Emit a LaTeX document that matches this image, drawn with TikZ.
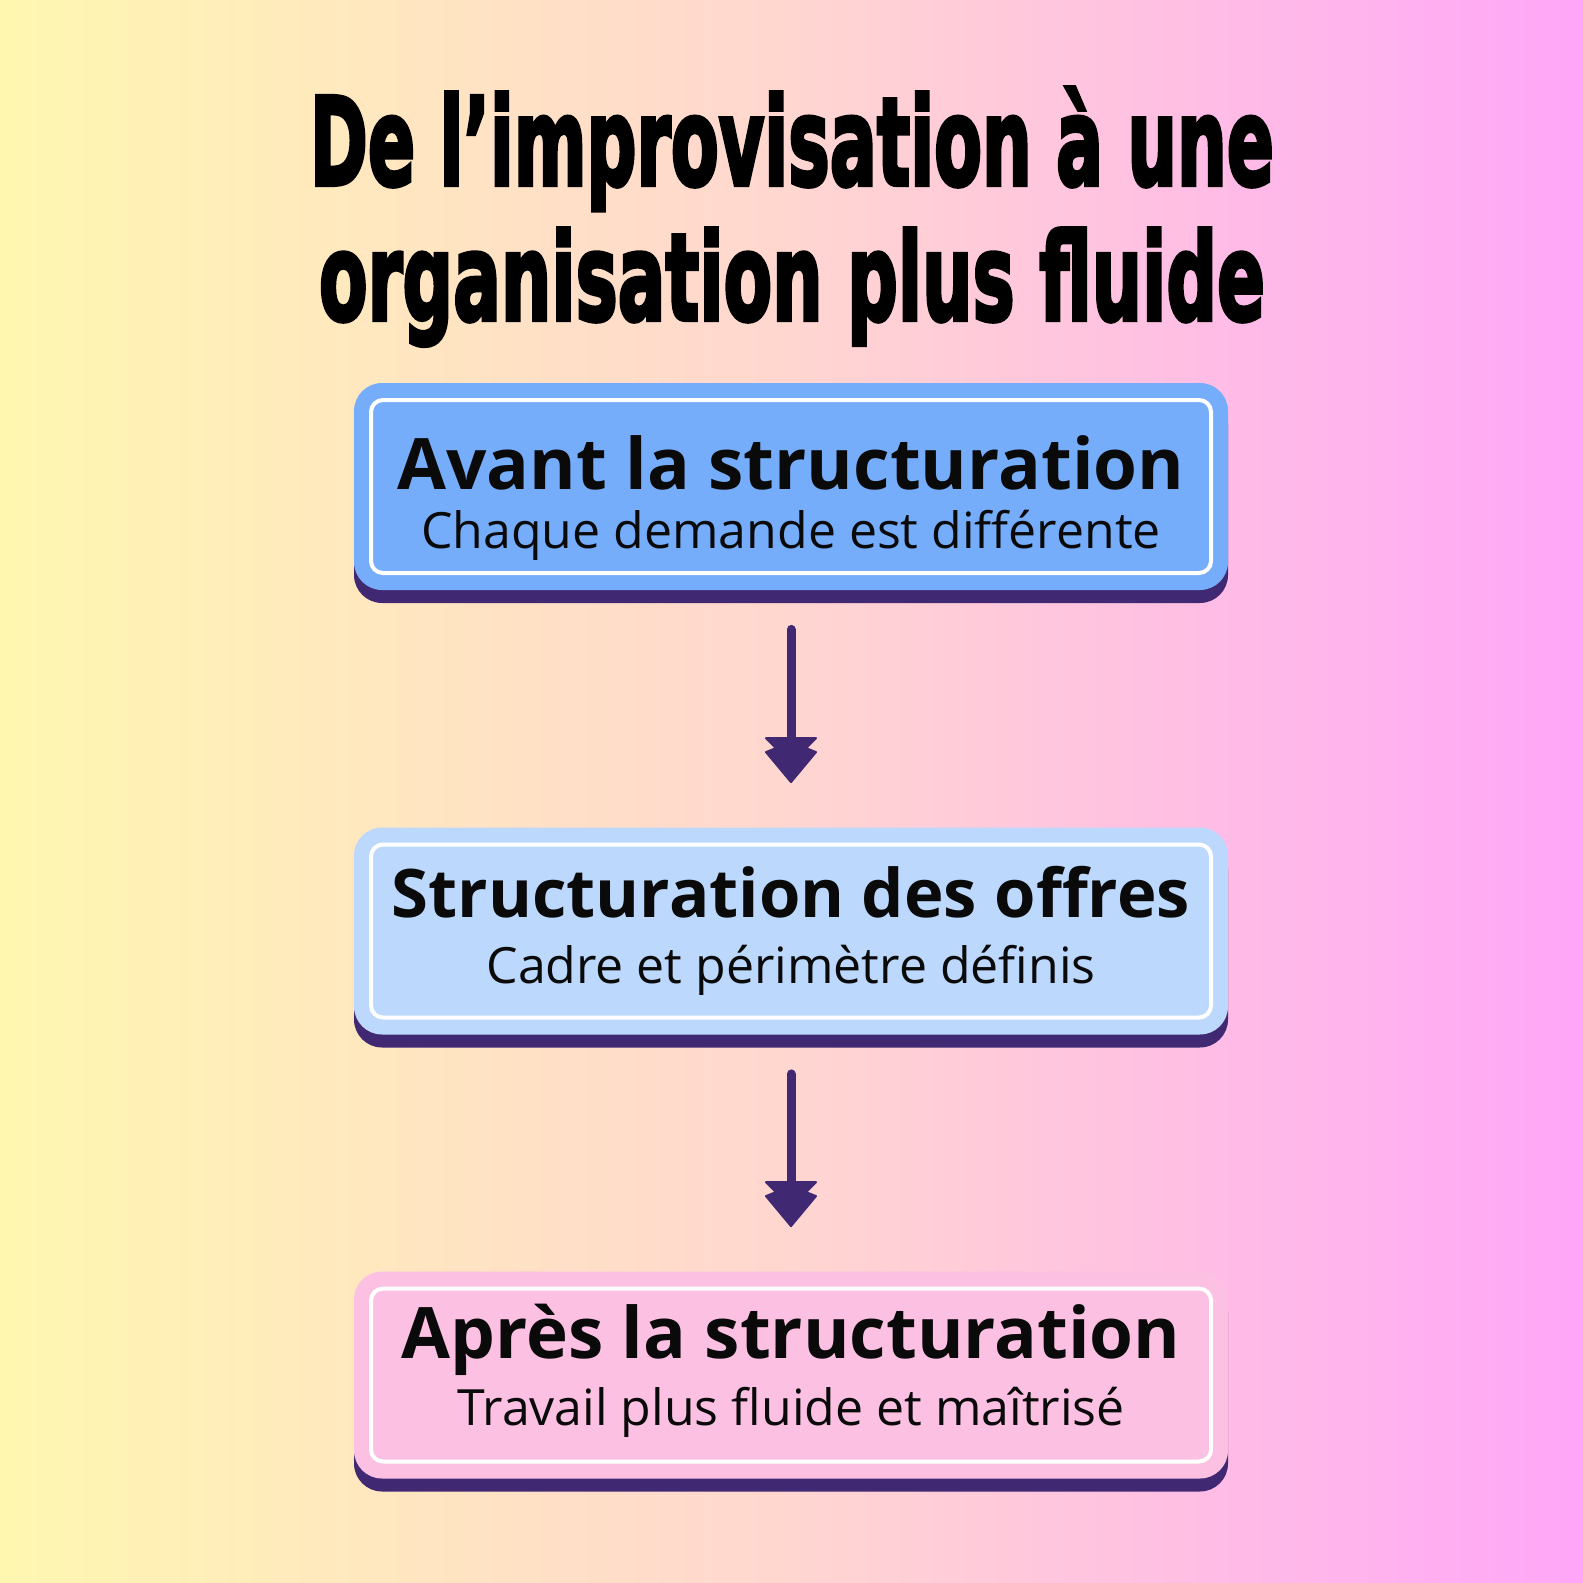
\documentclass[tikz,border=0pt]{standalone}
\usepackage{fontspec}
\setmainfont{Open Sans}
\newfontfamily\titlefont[BoldFeatures={FakeBold=3.5}]{DejaVu Sans}
\usetikzlibrary{calc}
\definecolor{bgL}{RGB}{255,247,176}
\definecolor{bgM}{RGB}{255,214,208}
\definecolor{bgR}{RGB}{255,166,248}
\definecolor{boxA}{RGB}{118,173,250}
\definecolor{boxB}{RGB}{188,216,253}
\definecolor{boxC}{RGB}{251,192,226}
\definecolor{deep}{RGB}{65,40,115}
\definecolor{ink}{RGB}{10,10,10}
\tikzset{
  face/.style={rectangle, rounded corners=14pt, minimum width=437pt, minimum height=103.5pt, inner sep=0pt},
  shadowface/.style={face, fill=deep},
  frame/.style={rectangle, rounded corners=6pt, draw=white, line width=2pt, minimum width=420pt, minimum height=86.5pt, inner sep=0pt},
  head/.style={anchor=base, text=ink, font=\bfseries\fontsize{35.5}{42}\selectfont, inner sep=0pt},
  headsmall/.style={head, font=\bfseries\fontsize{33.5}{40}\selectfont},
  sub/.style={anchor=base, text=ink, font=\fontsize{25}{30}\selectfont, inner sep=0pt},
  titleline/.style={anchor=base, text=black, inner sep=0pt, font=\titlefont\bfseries\fontsize{40}{48}\selectfont},
  shaft/.style={draw=deep, line width=4.5pt, line cap=round, shorten <=19.5pt, shorten >=42pt},
  headfill/.style={fill=deep, draw=deep, line width=1pt, line join=round}
}
\newcommand\dhead[1]{\path[headfill] (#1) -- ++(25,-30) -- ++(-10,-4) -- ++(10,-10) -- ++(-50,0) -- ++(10,10) -- ++(-10,4) -- cycle;}
\begin{document}
\begin{tikzpicture}[x=0.5pt,y=-0.5pt]
\useasboundingbox (0,0) rectangle (1583,1583);
\shade[left color=bgL, right color=bgR, middle color=bgM] (0,0) rectangle (1583,1583);
% title
\node[titleline] (t1) at (792,185) {\resizebox{482pt}{44.5pt}{\raisebox{0pt}[\fontcharht\font`D][0pt]{De l’improvisation à une}}};
\node[titleline] (t2) at (792,320) {\resizebox{473pt}{44pt}{\raisebox{0pt}[\fontcharht\font`l][0pt]{organisation plus fluide}}};
% box 1
\node[shadowface] (s1) at (791,499.5) {};
\node[face, fill=boxA] (b1) at (791,486.5) {};
\node[frame] (f1) at (791,486.5) {};
\node[head] (h1) at (791,489) {Avant la structuration};
\node[sub] (u1) at (791,548) {Chaque demande est différente};
% box 2
\node[shadowface] (s2) at (791,944) {};
\node[face, fill=boxB] (b2) at (791,931) {};
\node[frame] (f2) at (791,931) {};
\node[headsmall] (h2) at (791,917) {Structuration des offres};
\node[sub] (u2) at (791,983) {Cadre et périmètre définis};
% box 3
\node[shadowface] (s3) at (791,1388) {};
\node[face, fill=boxC] (b3) at (791,1375) {};
\node[frame] (f3) at (791,1375) {};
\node[head] (h3) at (791,1358) {Après la structuration};
\node[sub] (u3) at (791,1425) {Travail plus fluide et maîtrisé};
% arrows
\draw[shaft] (b1.south) -- (b2.north);
\coordinate (tip1) at ($(b2.north)+(0,-45)$);
\dhead{tip1}
\draw[shaft] (b2.south) -- (b3.north);
\coordinate (tip2) at ($(b3.north)+(0,-45)$);
\dhead{tip2}
\end{tikzpicture}
\end{document}
